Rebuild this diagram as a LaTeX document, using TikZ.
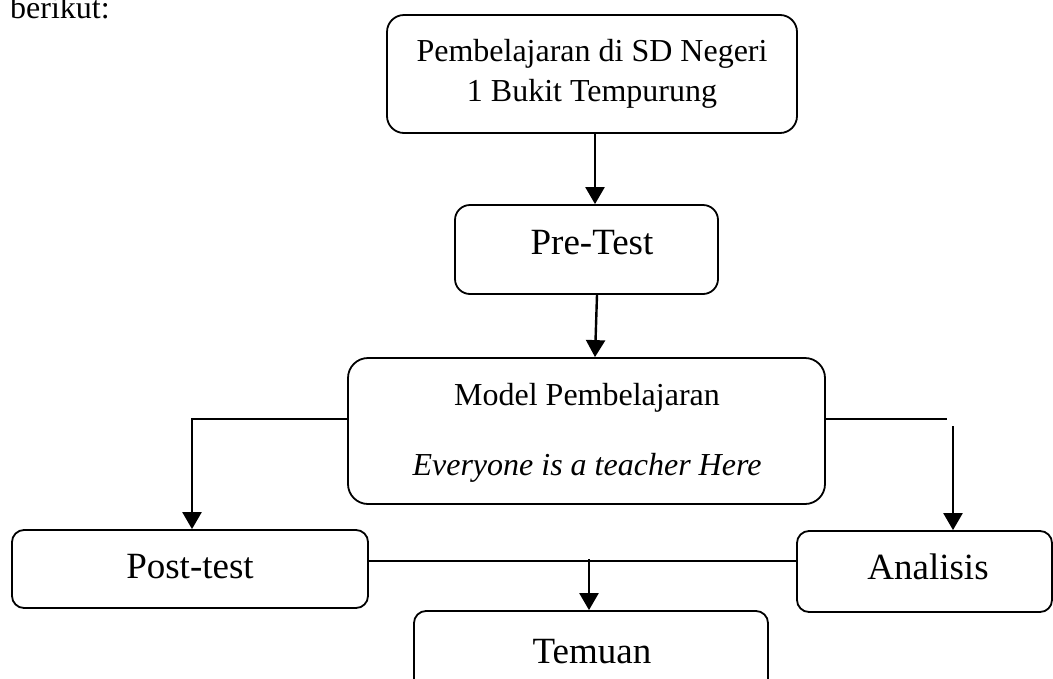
\documentclass[tikz,border=0pt]{standalone}
\usepackage{fontspec}
\setmainfont{Liberation Serif}
\usetikzlibrary{arrows.meta}
\begin{document}
\begin{tikzpicture}[x=1pt,y=-1pt,
  box/.style={draw, line width=1.8pt, rectangle, inner sep=0pt},
  big/.style={font=\fontsize{37}{44}\selectfont, anchor=base, inner sep=0pt},
  mid/.style={font=\fontsize{32}{38}\selectfont, anchor=base, inner sep=0pt},
  arr/.style={line width=2.4pt, -{Triangle[length=17pt,width=19pt]}},
  conn/.style={line width=1.6pt}]
\useasboundingbox (0,0) rectangle (1053,678);
% text above
\node[mid, anchor=base west] (ber) at (10,18) {berikut:};
% boxes
\node[box, rounded corners=17pt, minimum width=410pt, minimum height=118pt] (top) at (592,74) {};
\node[mid] (t1) at (592,61.5) {Pembelajaran di SD Negeri};
\node[mid] (t2) at (592,101) {1 Bukit Tempurung};
\node[box, rounded corners=15pt, minimum width=263pt, minimum height=89pt] (pre) at (586.5,249.5) {};
\node[big] (pret) at (592,254) {Pre-Test};
\node[box, rounded corners=20pt, minimum width=477pt, minimum height=146pt] (model) at (586.5,431) {};
\node[mid] (m1) at (587,405) {Model Pembelajaran};
\node[mid] (m2) at (587,475) {\itshape Everyone is a teacher Here};
\node[box, rounded corners=12pt, minimum width=356pt, minimum height=78pt] (post) at (190,569) {};
\node[big] (postt) at (190,578) {Post-test};
\node[box, rounded corners=12pt, minimum width=255pt, minimum height=81pt] (ana) at (924.5,571.5) {};
\node[big] (anat) at (928,579) {Analisis};
\node[box, rounded corners=12pt, minimum width=354pt, minimum height=90pt] (tem) at (591,656) {};
\node[big] (temt) at (592,663) {Temuan};
% connectors
\draw[arr] ([xshift=3pt]top.south) -- ([xshift=3pt]top.south |- pre.north);
\draw[arr] ([xshift=10.5pt]pre.south) -- ([xshift=8.5pt]model.north);
\coordinate (lcorner) at (192,419);
\draw[arr] (model.west |- lcorner) -- (lcorner) -- (lcorner |- post.north);
\coordinate (rend) at (947,419);
\coordinate (rstart) at (953,426);
\draw[conn] (model.east |- rend) -- (rend);
\draw[arr] (rstart) -- (rstart |- ana.north);
\coordinate (hl) at (0,561);
\draw[conn] (post.east |- hl) -- (ana.west |- hl);
\coordinate (tstart) at (589,559);
\draw[arr] (tstart) -- (tstart |- tem.north);
\end{tikzpicture}
\end{document}
